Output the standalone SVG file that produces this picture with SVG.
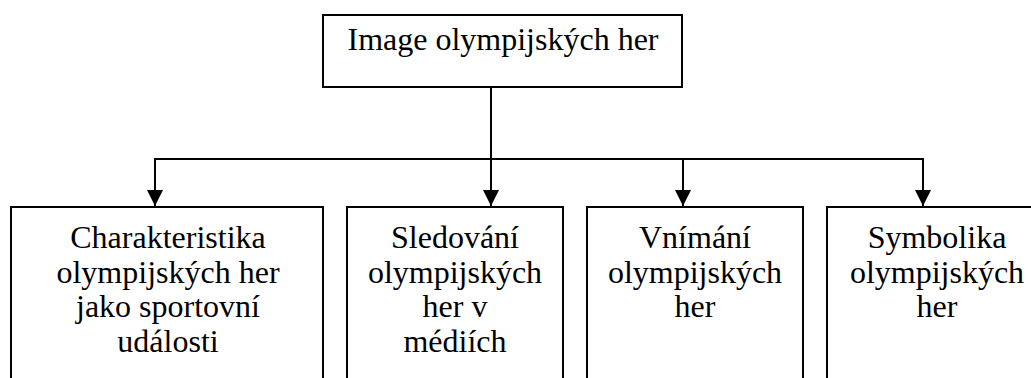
<svg xmlns="http://www.w3.org/2000/svg" width="1031" height="378" viewBox="0 0 1031 378">
<style>
.box{fill:#fff;stroke:#000;stroke-width:2}
.c{fill:none;stroke:#000;stroke-width:2}
</style>
<defs>
<marker id="ah" markerUnits="userSpaceOnUse" markerWidth="16" markerHeight="16" viewBox="0 0 16 16" refX="16" refY="8" orient="auto">
<path d="M0,0 L16,8 L0,16 Z" fill="#000"/>
</marker>
</defs>
<rect width="1031" height="378" fill="#fff"/>
<g id="connectors">
<path class="c" d="M491,87 V159"/>
<path class="c" d="M155,159 H923"/>
<path class="c" d="M155,158 V206" marker-end="url(#ah)"/>
<path class="c" d="M491,159 V206" marker-end="url(#ah)"/>
<path class="c" d="M683,159 V206" marker-end="url(#ah)"/>
<path class="c" d="M923,158 V206" marker-end="url(#ah)"/>
</g>
<g font-family="Liberation Serif, Times New Roman, serif" font-size="32" fill="#000" text-anchor="middle">
<g id="root">
<rect class="box" x="323" y="15" width="359" height="72"/>
<text x="503" y="50">Image olympijsk&#253;ch her</text>
</g>
<g id="n1">
<rect class="box" x="11" y="207" width="312" height="190"/>
<text x="168" y="248">Charakteristika</text>
<text x="168" y="282.7">olympijsk&#253;ch her</text>
<text x="168" y="317.4">jako sportovn&#237;</text>
<text x="168" y="352">ud&#225;losti</text>
</g>
<g id="n2">
<rect class="box" x="347" y="207" width="216" height="190"/>
<text x="455" y="248">Sledov&#225;n&#237;</text>
<text x="455" y="282.7">olympijsk&#253;ch</text>
<text x="455" y="317.4">her v</text>
<text x="455" y="352">m&#233;di&#237;ch</text>
</g>
<g id="n3">
<rect class="box" x="587" y="207" width="216" height="190"/>
<text x="695" y="248">Vn&#237;m&#225;n&#237;</text>
<text x="695" y="282.7">olympijsk&#253;ch</text>
<text x="695" y="317.4">her</text>
</g>
<g id="n4">
<rect class="box" x="827" y="207" width="218" height="190"/>
<text x="937" y="248">Symbolika</text>
<text x="937" y="282.7">olympijsk&#253;ch</text>
<text x="937" y="317.4">her</text>
</g>
</g>
</svg>
